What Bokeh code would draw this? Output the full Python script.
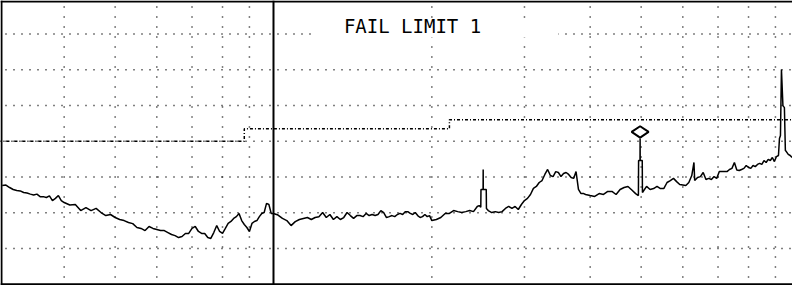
import math
from bokeh.plotting import figure
from bokeh.models import Span, Label
from bokeh.embed import file_html
from bokeh.resources import INLINE

# ---- measured trace (frequency in MHz, level in dBuV/m) ----
freq_mhz = [
    30.5, 31, 31.5, 32, 32.5, 33, 33.5, 34, 34.5, 35,
    35.5, 36, 36.5, 37, 37.5, 38, 38.5, 39, 39.5, 40,
    41, 42, 43, 44, 45, 46, 47, 48, 49, 50,
    51, 52, 53, 54, 55, 56, 57, 58, 59, 60,
    61, 62, 63, 64, 65, 66, 67, 68, 69, 70,
    71, 72, 73, 74, 75, 76, 77, 78, 79, 80,
    81, 82, 83, 84, 85, 86, 87, 88, 89, 90,
    91, 92, 93, 94, 95, 96, 97, 98, 99, 100,
    102, 104, 106, 108, 110, 112, 114, 116, 118, 120,
    122, 124, 126, 128, 130, 132, 134, 136, 138, 140,
    142, 144, 146, 148, 150, 152, 154, 156, 158, 160,
    162, 164, 166, 168, 170, 172, 174, 176, 178, 180,
    182, 184, 186, 188, 190, 192, 194, 196, 198, 200,
    204, 208, 212, 216, 220, 224, 228, 232, 236, 240,
    244, 246, 247.8, 248, 250.3, 250.4, 250.5, 253.8, 254, 256,
    260, 264, 268, 272, 276, 280, 284, 288, 292, 296,
    300, 304, 308, 312, 316, 320, 324, 328, 332, 336,
    340, 344, 348, 352, 356, 360, 364, 368, 372, 376,
    380, 384, 388, 392, 396, 400, 408, 416, 424, 432,
    440, 448, 456, 464, 472, 480, 488, 494, 494.4, 497.5,
    497.7, 497.9, 502.4, 502.8, 512, 520, 528, 536, 544, 552,
    560, 568, 576, 584, 592, 600, 608, 616, 624, 630,
    632, 640, 648, 656, 664, 672, 680, 688, 696, 704,
    712, 720, 728, 736, 744, 752, 760, 768, 776, 784,
    792, 800, 808, 816, 824, 832, 840, 848, 856, 864,
    872, 880, 888, 896, 904, 912, 916, 920, 924, 930,
    936, 940, 944, 952, 960, 968,
]
level_dbuv = [
    27.6, 27.75, 27.05, 26.5, 26.2, 26.1, 25.65, 25.5, 25.2, 24.95,
    25.2, 24.5, 24.5, 24.25, 24.7, 23.4, 24.0, 24.8, 23.4, 22.85,
    22.15, 22.3, 20.6, 21.45, 20.6, 21.2, 20.05, 19.2, 19.5, 18.66,
    18.1, 17.8, 17.25, 16.95, 15.86, 15.6, 15.0, 16.15, 15.6, 15.3,
    15.0, 15.0, 14.45, 13.9, 13.6, 13.05, 13.35, 14.2, 14.2, 15.6,
    16.15, 14.75, 14.2, 14.2, 13.05, 12.8, 14.45, 16.4, 14.75, 14.2,
    15.6, 17.0, 17.55, 18.4, 18.9, 19.8, 17.8, 16.7, 15.86, 14.75,
    17.0, 17.55, 17.8, 18.9, 19.8, 20.05, 22.6, 22.3, 19.8, 19.8,
    19.35, 18.4, 17.8, 16.4, 17.5, 18.1, 18.4, 18.65, 18.1, 18.65,
    18.9, 20.05, 18.65, 19.5, 18.1, 18.9, 18.1, 18.65, 20.05, 19.2,
    18.4, 19.2, 19.2, 18.9, 19.8, 19.2, 19.5, 19.2, 19.5, 20.6,
    20.05, 18.65, 18.9, 19.2, 18.9, 19.5, 19.8, 19.5, 20.3, 20.3,
    19.8, 19.5, 20.05, 19.2, 18.65, 18.9, 19.5, 18.9, 19.2, 17.8,
    18.1, 18.65, 19.8, 19.8, 20.6, 20.3, 20.05, 20.3, 20.6, 20.3,
    21.75, 22.0, 21.5, 26.5, 26.5, 32.1, 26.5, 26.5, 21.2, 20.6,
    20.05, 20.3, 20.05, 20.3, 21.2, 21.75, 21.2, 21.75, 20.9, 22.3,
    23.4, 24.0, 25.1, 26.8, 27.35, 28.45, 29.0, 30.7, 32.1, 30.4,
    30.1, 31.5, 31.25, 30.1, 30.95, 31.25, 30.7, 29.85, 29.6, 31.5,
    26.5, 25.4, 25.4, 25.1, 24.95, 24.8, 24.55, 25.35, 25.1, 25.95,
    25.95, 25.1, 26.5, 27.05, 27.35, 26.35, 25.35, 24.8, 34.6, 34.6,
    40.75, 34.6, 34.6, 25.65, 27.35, 26.5, 26.75, 27.35, 26.75, 26.75,
    28.45, 29.0, 29.6, 28.7, 27.9, 27.75, 27.6, 28.45, 30.4, 34.05,
    29.0, 29.85, 30.1, 31.25, 29.3, 29.6, 29.3, 30.1, 29.6, 31.5,
    31.5, 31.5, 31.5, 32.1, 32.4, 34.05, 31.95, 31.8, 32.1, 32.4,
    33.2, 32.65, 32.4, 33.2, 32.9, 33.5, 33.8, 33.5, 34.6, 34.05,
    34.9, 34.6, 35.45, 34.3, 35.7, 36.0, 40.75, 41.6, 60.05, 49.95,
    49.4, 37.4, 37.1, 36.3, 36.0, 35.45,
]
assert len(freq_mhz) == len(level_dbuv)

# ---- limit line 1 ----
limit_freq = [30, 88, 88, 216, 216, 1000]
limit_level = [40, 40, 43.5, 43.5, 46, 46]

# ---- marker ----
marker_freq = [497.7]
marker_level = [42.6]

# ---- grid ----
grid_freq = [40, 50, 60, 70, 80, 90, 200, 300, 400, 500, 600, 700, 800, 900]
decade_freq = 100
grid_level = [10, 20, 30, 40, 50, 60, 70]
status_text = "FAIL LIMIT 1"

X0, X1 = 30.27, 969.8
Y0, Y1 = -0.36, 79.36

p = figure(width=792, height=285, x_axis_type="log",
           x_range=(X0, X1), y_range=(Y0, Y1),
           x_axis_location=None, y_axis_location=None,
           output_backend="svg", toolbar_location=None, min_border=0)
p.grid.visible = False
p.outline_line_color = None
p.background_fill_color = "white"
p.border_fill_color = "white"

# dotted grid
p.segment(x0=grid_freq, y0=[Y1] * len(grid_freq), x1=grid_freq, y1=[0] * len(grid_freq),
          line_color="black", line_width=1.5, line_dash="1 9", line_dash_offset=4)
p.segment(x0=[X0] * len(grid_level), y0=grid_level, x1=[X1] * len(grid_level), y1=grid_level,
          line_color="black", line_width=1.5, line_dash="1 7", line_dash_offset=3)

# white box behind the status text
p.quad(left=[120], right=[348], bottom=[69.0], top=[74.0],
       fill_color="white", line_color=None)

# limit line
p.line(limit_freq, limit_level, line_color="black", line_width=1.5, line_dash="3 2 1 2")

# trace
p.line(freq_mhz, level_dbuv, line_color="black", line_width=1.5)

# frame lines and decade line
for loc in [79.1, 0.0]:
    p.add_layout(Span(location=loc, dimension="width", line_color="black", line_width=2))
p.add_layout(Span(location=30.4, dimension="height", line_color="black", line_width=2))
p.add_layout(Span(location=decade_freq, dimension="height", line_color="black", line_width=2))

# marker
p.scatter(marker_freq, marker_level, marker="diamond", size=17, angle=math.pi / 2,
          fill_color="white", line_color="black", line_width=2)

p.add_layout(Label(x=183.8, y=72.3, text=status_text, text_align="center",
                   text_baseline="alphabetic", text_font="DejaVu Sans Mono",
                   text_font_size="19px", text_color="black"))

open("out.html", "w").write(file_html(p, INLINE))
